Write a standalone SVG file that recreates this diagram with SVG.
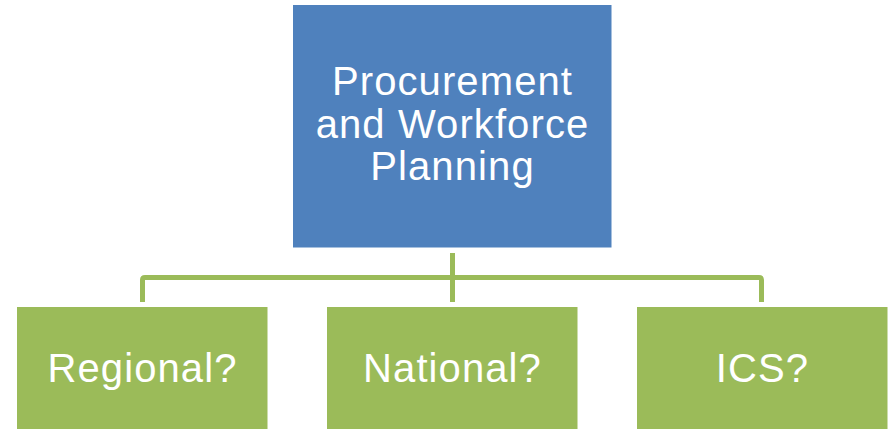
<svg xmlns="http://www.w3.org/2000/svg" width="891" height="429" viewBox="0 0 891 429">
  <style>
    .top { fill: #4F81BD; }
    .leaf { fill: #9BBB59; }
    .label { fill: #FFFFFF; font-family: "Liberation Sans", Arial, sans-serif; font-size: 40px; letter-spacing: 1.1px; text-anchor: middle; }
    .link { fill: none; stroke: #9BBB59; stroke-width: 5; stroke-linejoin: round; }
  </style>
  <rect width="891" height="429" fill="#FFFFFF"/>

  <g id="connectors">
    <path class="link" d="M452.5 253 V302"/>
    <path class="link" d="M142.5 302 V280 Q142.5 277.5 145 277.5 H759 Q761.5 277.5 761.5 280 V302"/>
  </g>

  <g id="procurement">
    <rect class="top" x="293" y="5" width="318.5" height="242.5"/>
    <text class="label" x="452.5" y="95">Procurement</text>
    <text class="label" x="452.5" y="137.5">and Workforce</text>
    <text class="label" x="452.5" y="180">Planning</text>
  </g>

  <g id="regional">
    <rect class="leaf" x="17" y="307" width="250.5" height="122"/>
    <text class="label" x="142.5" y="382">Regional?</text>
  </g>

  <g id="national">
    <rect class="leaf" x="327" y="307" width="250.5" height="122"/>
    <text class="label" x="452.5" y="382">National?</text>
  </g>

  <g id="ics">
    <rect class="leaf" x="637" y="307" width="250.5" height="122"/>
    <text class="label" x="762.5" y="382">ICS?</text>
  </g>
</svg>
